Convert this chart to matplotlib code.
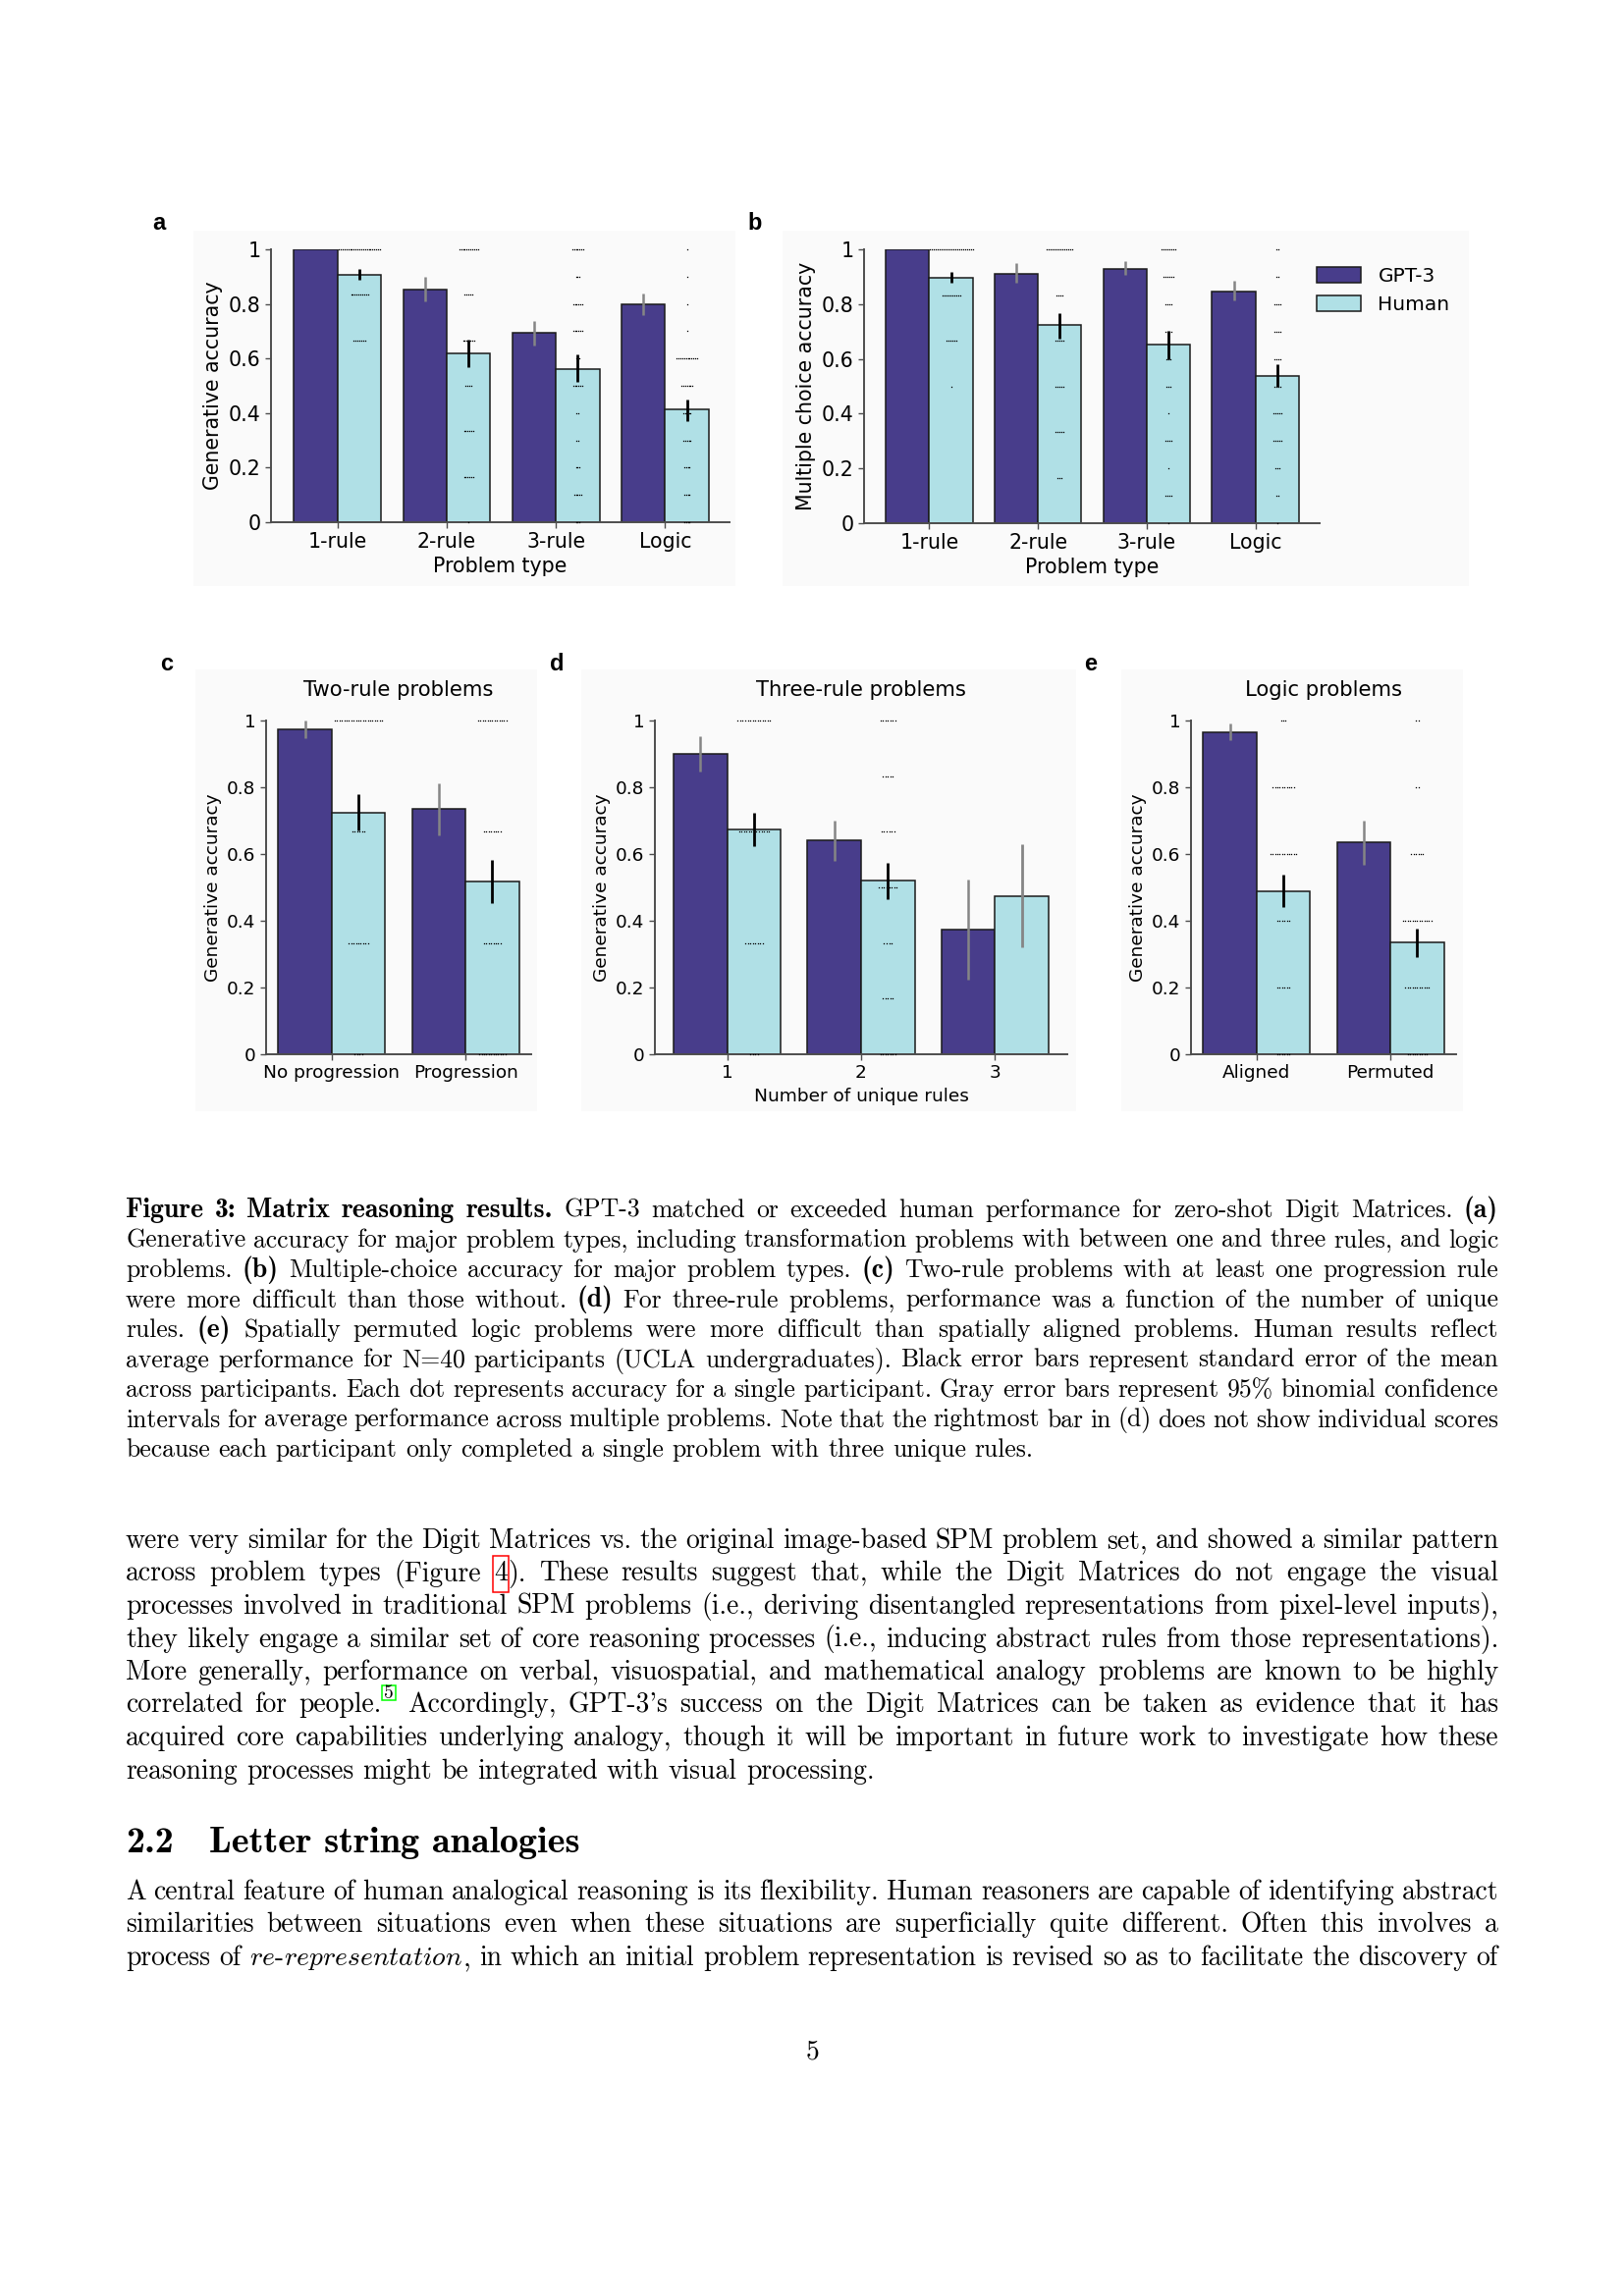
import re
import numpy as np
import matplotlib.pyplot as plt
from matplotlib.font_manager import FontProperties
from matplotlib.patches import Rectangle

W, H = 1654, 2339
GPT_COL = '#483d8b'
HUM_COL = '#b0e0e6'

# ---------------- data ----------------
lv3 = [1, 2/3, 1/3, 0]
lv5 = [1, 0.8, 0.6, 0.4, 0.2, 0]
lv6 = [1, 5/6, 4/6, 3/6, 2/6, 1/6, 0]
lv10 = [1, .9, .8, .7, .6, .5, .4, .3, .2, .1, 0]

ab_types = ['1-rule', '2-rule', '3-rule', 'Logic']

# a: generative accuracy
a_gpt = [1.0, 0.852, 0.693, 0.800]
a_gpt_lo = [1.0, 0.810, 0.648, 0.760]
a_gpt_hi = [1.0, 0.898, 0.736, 0.839]
a_hum = [0.906, 0.618, 0.562, 0.412]
a_hum_lo = [0.888, 0.568, 0.513, 0.372]
a_hum_hi = [0.928, 0.670, 0.615, 0.450]
a_dot_lv = [[1, 5/6, 4/6], lv6, lv10, lv10]
a_dot_n = [[23, 10, 7], [11, 5, 7, 4, 6, 6, 1],
           [7, 3, 6, 6, 3, 6, 2, 2, 3, 5, 3], [1, 1, 1, 1, 12, 7, 5, 5, 4, 4, 4]]

# b: multiple choice accuracy
b_gpt = [1.0, 0.912, 0.928, 0.845]
b_gpt_lo = [1.0, 0.877, 0.907, 0.813]
b_gpt_hi = [1.0, 0.949, 0.957, 0.885]
b_hum = [0.897, 0.724, 0.654, 0.539]
b_hum_lo = [0.877, 0.673, 0.600, 0.497]
b_hum_hi = [0.916, 0.766, 0.703, 0.581]
b_dot_lv = [[1, 5/6, 4/6, 3/6], lv6, lv10, lv10]
b_dot_n = [[23, 10, 6, 1], [14, 4, 5, 5, 5, 3, 0],
           [8, 6, 4, 4, 3, 3, 1, 4, 1, 4, 1], [2, 2, 4, 4, 4, 4, 5, 5, 3, 2, 1]]

# c: two-rule problems
c_types = ['No progression', 'Progression']
c_gpt = [0.975, 0.734]
c_gpt_lo = [0.948, 0.656]
c_gpt_hi = [1.0, 0.813]
c_hum = [0.725, 0.517]
c_hum_lo = [0.672, 0.453]
c_hum_hi = [0.779, 0.582]
c_dot_lv = [lv3, lv3]
c_dot_n = [[21, 6, 9, 4], [13, 8, 8, 12]]

# d: three-rule problems
d_types = ['1', '2', '3']
d_gpt = [0.899, 0.641, 0.375]
d_gpt_lo = [0.847, 0.580, 0.225]
d_gpt_hi = [0.953, 0.701, 0.525]
d_hum = [0.675, 0.520, 0.475]
d_hum_lo = [0.625, 0.466, 0.321]
d_hum_hi = [0.723, 0.575, 0.629]
d_hum_gray = [False, False, True]
d_dot_lv = [lv3, lv6, []]
d_dot_n = [[14, 13, 8, 4], [7, 5, 6, 8, 4, 5, 7], []]

# e: logic problems
e_types = ['Aligned', 'Permuted']
e_gpt = [0.965, 0.634]
e_gpt_lo = [0.940, 0.569]
e_gpt_hi = [0.990, 0.701]
e_hum = [0.489, 0.335]
e_hum_lo = [0.441, 0.291]
e_hum_hi = [0.538, 0.377]
e_dot_lv = [lv5, lv5]
e_dot_n = [[3, 10, 12, 6, 6, 6], [2, 2, 6, 13, 11, 9]]

yticks = [0, 0.2, 0.4, 0.6, 0.8, 1]
ytick_labels = ['0', '0.2', '0.4', '0.6', '0.8', '1']

fig = plt.figure(figsize=(W / 100, H / 100), dpi=100)
fig.patch.set_facecolor('white')


def fig_rect(x0, y0, x1, y1, **kw):
    r = Rectangle((x0 / W, 1 - y1 / H), (x1 - x0) / W, (y1 - y0) / H,
                  transform=fig.transFigure, **kw)
    fig.add_artist(r)
    return r


def ftext(x, y, s, **kw):
    return fig.text(x / W, 1 - y / H, s, **kw)


# light backgrounds of the embedded chart images
for bx in [(197, 235, 749, 597), (797, 235, 1496, 597), (199, 682, 547, 1132),
           (592, 682, 1096, 1132), (1142, 682, 1490, 1132)]:
    fig_rect(*bx, facecolor='#fafafa', edgecolor='none', zorder=0)


def panel(box, xlim, cats, gpt, g_lo, g_hi, hum, h_lo, h_hi, dot_lv, dot_n,
          dot_px, fp, h_gray=None):
    x0, x1, ytop, ybot = box
    ax = fig.add_axes([x0 / W, 1 - ybot / H, (x1 - x0) / W, (ybot - ytop) / H])
    ax.patch.set_alpha(0)
    x = np.arange(len(cats))
    ax.bar(x - 0.2, gpt, 0.4, color=GPT_COL, edgecolor='#1a1a1a', lw=1.1,
           label='GPT-3', zorder=2)
    ax.bar(x + 0.2, hum, 0.4, color=HUM_COL, edgecolor='#1a1a1a', lw=1.1,
           label='Human', zorder=2)
    ax.vlines(x - 0.2, g_lo, g_hi, color='#858585', lw=1.8, zorder=4,
              capstyle='butt')
    if h_gray is None:
        h_gray = [False] * len(cats)
    for i in range(len(cats)):
        col = '#858585' if h_gray[i] else 'black'
        ax.vlines(x[i] + 0.2, h_lo[i], h_hi[i], color=col, lw=2.0, zorder=4,
                  capstyle='butt')
    ax.set_xlim(xlim)
    ax.set_ylim(0, 1)
    step = dot_px * (xlim[1] - xlim[0]) / (x1 - x0)
    for i in range(len(cats)):
        for lv, n in zip(dot_lv[i], dot_n[i]):
            if n == 0:
                continue
            xs = x[i] + 0.2 + (np.arange(n) - (n - 1) / 2) * step
            ax.plot(xs, [lv] * n, 's', ms=0.9, mew=0, color='#000000',
                    zorder=3, clip_on=False)
    for s in ['top', 'right']:
        ax.spines[s].set_visible(False)
    for s in ['left', 'bottom']:
        ax.spines[s].set_color('#4d4d4d')
        ax.spines[s].set_linewidth(1.4)
    ax.set_xticks(x)
    ax.set_xticklabels(cats, fontproperties=fp)
    ax.set_yticks(yticks)
    ax.set_yticklabels(ytick_labels, fontproperties=fp)
    ax.tick_params(length=4, width=1, color='#4d4d4d')
    return ax


fp_ab = FontProperties(family='DejaVu Sans', size=14.8)
fp_ce = FontProperties(family='DejaVu Sans', size=13.3)
fp_title = FontProperties(family='DejaVu Sans', size=15.2)
fp_lab = FontProperties(family='Liberation Sans', weight='bold', size=17)

ax_a = panel((276, 743, 254, 532), (-0.61, 3.59), ab_types, a_gpt, a_gpt_lo,
             a_gpt_hi, a_hum, a_hum_lo, a_hum_hi, a_dot_lv, a_dot_n, 1.9, fp_ab)
ax_a.set_ylabel('Generative accuracy', fontproperties=fp_ab)
ax_a.set_xlabel('Problem type', fontproperties=fp_ab, labelpad=3.5)

ax_b = panel((880, 1344, 254, 533), (-0.60, 3.59), ab_types, b_gpt, b_gpt_lo,
             b_gpt_hi, b_hum, b_hum_lo, b_hum_hi, b_dot_lv, b_dot_n, 2.0, fp_ab)
ax_b.set_ylabel('Multiple choice accuracy', fontproperties=fp_ab)
ax_b.set_xlabel('Problem type', fontproperties=fp_ab, labelpad=3.5)
ax_b.legend(loc='upper left', bbox_to_anchor=(1341 / W, 1 - 272 / H),
            bbox_transform=fig.transFigure, frameon=False, fontsize=14.5,
            handlelength=2.25, handleheight=0.8, handletextpad=0.85,
            labelspacing=0.5, borderaxespad=0, borderpad=0)

ax_c = panel((271, 541, 734, 1074), (-0.49, 1.49), c_types, c_gpt, c_gpt_lo,
             c_gpt_hi, c_hum, c_hum_lo, c_hum_hi, c_dot_lv, c_dot_n, 2.4, fp_ce)
ax_c.set_ylabel('Generative accuracy', fontproperties=fp_ce)
ax_c.set_title('Two-rule problems', fontproperties=fp_title, pad=18)

ax_d = panel((667, 1087, 734, 1074), (-0.54, 2.54), d_types, d_gpt, d_gpt_lo,
             d_gpt_hi, d_hum, d_hum_lo, d_hum_hi, d_dot_lv, d_dot_n, 2.55, fp_ce,
             h_gray=d_hum_gray)
ax_d.set_ylabel('Generative accuracy', fontproperties=fp_ce)
ax_d.set_xlabel('Number of unique rules', fontproperties=fp_ce)
ax_d.set_title('Three-rule problems', fontproperties=fp_title, pad=18)

ax_e = panel((1213, 1483, 734, 1074), (-0.49, 1.49), e_types, e_gpt, e_gpt_lo,
             e_gpt_hi, e_hum, e_hum_lo, e_hum_hi, e_dot_lv, e_dot_n, 2.4, fp_ce)
ax_e.set_ylabel('Generative accuracy', fontproperties=fp_ce)
ax_e.set_title('Logic problems', fontproperties=fp_title, pad=18)

for lab, lx, ly in [('a', 155, 234), ('b', 761, 234), ('c', 163, 683),
                    ('d', 560, 683), ('e', 1104, 683)]:
    ftext(lx, ly, lab, fontproperties=fp_lab, va='baseline', ha='left')

# ---------------- page text ----------------
rend = fig.canvas.get_renderer()


def props(style, size):
    if style == 'bf':
        # cmb10 is narrower than LaTeX's cmbx10, so set it a little larger
        return FontProperties(family='cmb10', size=size * 1.08)
    if style == 'it':
        return FontProperties(size=size, math_fontfamily='cm')
    if style == 'sup':
        return FontProperties(family='cmr10', size=size * 0.7)
    return FontProperties(family='cmr10', size=size)


def piece_str(t, style):
    return r'$\mathit{%s}$' % t if style == 'it' else t


def piece_w(t, style, size):
    w, _, _ = rend.get_text_width_height_descent(
        piece_str(t, style), props(style, size), ismath=(style == 'it'))
    if style == 'sup':
        w += 4
    return w


def parse(word):
    if word.startswith('*'):
        return [(word[1:], 'bf')]
    if word.startswith('_'):
        return [(p, 'it' if p.isalpha() else 'rm')
                for p in re.findall(r'[A-Za-z]+|[^A-Za-z]+', word[1:])]
    if word.startswith('['):
        i = word.index(']')
        return [(word[1:i], 'ref'), (word[i + 1:], 'rm')]
    if '^' in word:
        a, b = word.split('^')
        return [(a, 'rm'), (b, 'sup')]
    return [(word, 'rm')]


def draw_line(line, y, size, x0=128, x1=1526, justify=True):
    words = [parse(w) for w in line.split()]
    widths = [sum(piece_w(t, s, size) for t, s in wd) for wd in words]
    em = size * 100 / 72
    if justify and len(words) > 1:
        gap = (x1 - x0 - sum(widths)) / (len(words) - 1)
    else:
        gap = 0.333 * em
    x = x0
    for wd, ww in zip(words, widths):
        xx = x
        for t, s in wd:
            pw = piece_w(t, s, size)
            if s == 'sup':
                ftext(xx + 2, y - 0.52 * em, t, fontproperties=props(s, size),
                      va='baseline', ha='left')
                fig_rect(xx, y - em, xx + pw, y - 0.44 * em, fill=False,
                         edgecolor='#00ff00', lw=1.1)
            else:
                ftext(xx, y, piece_str(t, s), fontproperties=props(s, size),
                      va='baseline', ha='left')
                if s == 'ref':
                    fig_rect(xx - 1, y - 0.93 * em, xx + pw + 1, y + 0.4 * em,
                             fill=False, edgecolor='red', lw=1.1)
            xx += pw
        x += ww + gap


caption = [
    '*Figure *3: *Matrix *reasoning *results. GPT-3 matched or exceeded human performance for zero-shot Digit Matrices. *(a)',
    'Generative accuracy for major problem types, including transformation problems with between one and three rules, and logic',
    'problems. *(b) Multiple-choice accuracy for major problem types. *(c) Two-rule problems with at least one progression rule',
    'were more difficult than those without. *(d) For three-rule problems, performance was a function of the number of unique',
    'rules. *(e) Spatially permuted logic problems were more difficult than spatially aligned problems. Human results reflect',
    'average performance for N=40 participants (UCLA undergraduates). Black error bars represent standard error of the mean',
    'across participants. Each dot represents accuracy for a single participant. Gray error bars represent 95% binomial confidence',
    'intervals for average performance across multiple problems. Note that the rightmost bar in (d) does not show individual scores',
    'because each participant only completed a single problem with three unique rules.',
]
para1 = [
    'were very similar for the Digit Matrices vs. the original image-based SPM problem set, and showed a similar pattern',
    'across problem types (Figure [4]). These results suggest that, while the Digit Matrices do not engage the visual',
    'processes involved in traditional SPM problems (i.e., deriving disentangled representations from pixel-level inputs),',
    'they likely engage a similar set of core reasoning processes (i.e., inducing abstract rules from those representations).',
    'More generally, performance on verbal, visuospatial, and mathematical analogy problems are known to be highly',
    "correlated for people.^5 Accordingly, GPT-3's success on the Digit Matrices can be taken as evidence that it has",
    'acquired core capabilities underlying analogy, though it will be important in future work to investigate how these',
    'reasoning processes might be integrated with visual processing.',
]
para2 = [
    'A central feature of human analogical reasoning is its flexibility. Human reasoners are capable of identifying abstract',
    'similarities between situations even when these situations are superficially quite different. Often this involves a',
    'process of _re-representation, in which an initial problem representation is revised so as to facilitate the discovery of',
]

for i, ln in enumerate(caption):
    draw_line(ln, 1240 + 30.5 * i, 18.5, justify=(i < len(caption) - 1))
for i, ln in enumerate(para1):
    draw_line(ln, 1577 + 33.5 * i, 19.9, justify=(i < len(para1) - 1))

fp_head = FontProperties(family='cmb10', size=27.5)
ftext(128, 1887, '2.2', fontproperties=fp_head, va='baseline', ha='left')
ftext(213, 1887, 'Letter string analogies', fontproperties=fp_head,
      va='baseline', ha='left')

for i, ln in enumerate(para2):
    draw_line(ln, 1935 + 33.5 * i, 19.9, justify=True)

ftext(827, 2097, '5', fontproperties=FontProperties(family='cmr10', size=19.9),
      va='baseline', ha='center')

fig.savefig('out.png', dpi=100, facecolor='white')
